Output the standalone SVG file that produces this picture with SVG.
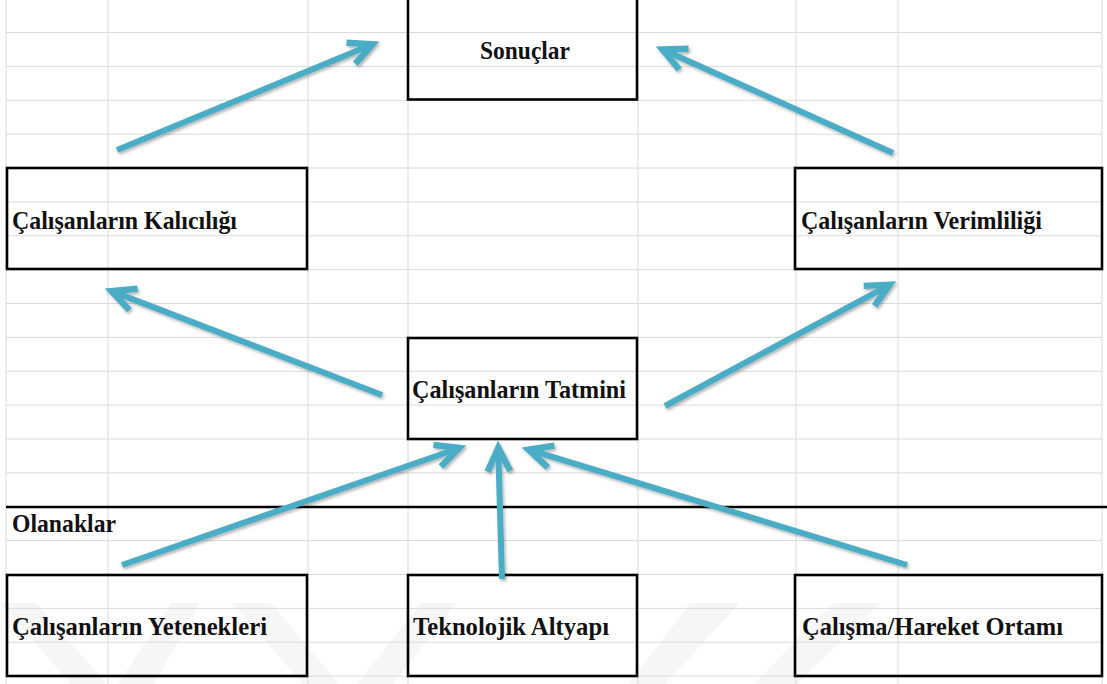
<svg xmlns="http://www.w3.org/2000/svg" width="1107" height="684" viewBox="0 0 1107 684">
<style>
.grid line{stroke:#dadada;stroke-width:1}
.box{fill:none;stroke:#000;stroke-width:2.6}
.lbl{font-family:"Liberation Serif","Times New Roman",serif;font-weight:bold;font-size:24.5px;fill:#111}
.conn line{stroke:#4BACC6;stroke-width:6;fill:none;stroke-linecap:butt}
.wm{fill:#000;opacity:0.035}
</style>
<defs>
<marker id="ah" markerUnits="userSpaceOnUse" viewBox="-40 -25 50 50" markerWidth="50" markerHeight="50" refX="0" refY="0" orient="auto">
<path d="M-23.4,-11.4 L0,0 L-23.4,11.4" fill="none" stroke="#4BACC6" stroke-width="6.5" stroke-linejoin="miter" stroke-miterlimit="10"/>
</marker>
<filter id="sh" x="-10%" y="-10%" width="120%" height="120%">
<feDropShadow dx="1.5" dy="2" stdDeviation="1.5" flood-color="#000" flood-opacity="0.3"/>
</filter>
</defs>
<rect x="0" y="0" width="1107" height="684" fill="#fff"/>
<g id="watermark">
<polygon class="wm" points="0,603 36,603 107,684 71,684"/>
<polygon class="wm" points="171,603 200,603 154,684 118,684"/>
<polygon class="wm" points="232,603 271,603 339,684 303,684"/>
<polygon class="wm" points="421,603 457,603 393,684 357,684"/>
<polygon class="wm" points="690,603 740,603 665,684 629,684"/>
<polygon class="wm" points="833,603 880,603 797,684 754,684"/>
</g>
<g class="grid" id="grid">
<line x1="6" y1="0" x2="6" y2="684"/>
<line x1="108" y1="0" x2="108" y2="684"/>
<line x1="308" y1="0" x2="308" y2="684"/>
<line x1="408" y1="0" x2="408" y2="684"/>
<line x1="638" y1="0" x2="638" y2="684"/>
<line x1="796" y1="0" x2="796" y2="684"/>
<line x1="898" y1="0" x2="898" y2="684"/>
<line x1="1102" y1="0" x2="1102" y2="684"/>
<line x1="6" y1="32.5" x2="1102" y2="32.5"/>
<line x1="6" y1="66.4" x2="1102" y2="66.4"/>
<line x1="6" y1="100.3" x2="1102" y2="100.3"/>
<line x1="6" y1="134.2" x2="1102" y2="134.2"/>
<line x1="6" y1="168" x2="1102" y2="168"/>
<line x1="6" y1="201.9" x2="1102" y2="201.9"/>
<line x1="6" y1="235.8" x2="1102" y2="235.8"/>
<line x1="6" y1="269.7" x2="1102" y2="269.7"/>
<line x1="6" y1="303.5" x2="1102" y2="303.5"/>
<line x1="6" y1="337.4" x2="1102" y2="337.4"/>
<line x1="6" y1="371.3" x2="1102" y2="371.3"/>
<line x1="6" y1="405.1" x2="1102" y2="405.1"/>
<line x1="6" y1="439" x2="1102" y2="439"/>
<line x1="6" y1="472.9" x2="1102" y2="472.9"/>
<line x1="6" y1="540.6" x2="1102" y2="540.6"/>
<line x1="6" y1="574.5" x2="1102" y2="574.5"/>
<line x1="6" y1="608.4" x2="1102" y2="608.4"/>
<line x1="6" y1="642.2" x2="1102" y2="642.2"/>
<line x1="6" y1="676.1" x2="1102" y2="676.1"/>
</g>
<g id="divider">
<line x1="6" y1="507" x2="1107" y2="507" stroke="#000" stroke-width="2.4"/>
<text class="lbl" x="12" y="532" textLength="104" lengthAdjust="spacingAndGlyphs">Olanaklar</text>
</g>
<g id="n-sonuclar">
<rect class="box" x="408" y="-2" width="229" height="101.5"/>
<text class="lbl" x="480" y="59" textLength="90" lengthAdjust="spacingAndGlyphs">Sonuçlar</text>
</g>
<g id="n-kalicilik">
<rect class="box" x="7" y="168" width="300" height="101"/>
<text class="lbl" x="12" y="229" textLength="225" lengthAdjust="spacingAndGlyphs">Çalışanların Kalıcılığı</text>
</g>
<g id="n-verimlilik">
<rect class="box" x="795" y="168" width="307" height="101"/>
<text class="lbl" x="801" y="229" textLength="241" lengthAdjust="spacingAndGlyphs">Çalışanların Verimliliği</text>
</g>
<g id="n-tatmin">
<rect class="box" x="408" y="338" width="229" height="101"/>
<text class="lbl" x="412" y="398" textLength="214" lengthAdjust="spacingAndGlyphs">Çalışanların Tatmini</text>
</g>
<g id="n-yetenek">
<rect class="box" x="7" y="575" width="300" height="101"/>
<text class="lbl" x="12" y="635" textLength="255" lengthAdjust="spacingAndGlyphs">Çalışanların Yetenekleri</text>
</g>
<g id="n-teknoloji">
<rect class="box" x="408" y="575" width="229" height="101"/>
<text class="lbl" x="413" y="635" textLength="196" lengthAdjust="spacingAndGlyphs">Teknolojik Altyapı</text>
</g>
<g id="n-ortam">
<rect class="box" x="795" y="575" width="307" height="101"/>
<text class="lbl" x="802" y="635" textLength="261" lengthAdjust="spacingAndGlyphs">Çalışma/Hareket Ortamı</text>
</g>
<g class="conn" id="connectors" filter="url(#sh)">
<line x1="117" y1="150" x2="372.5" y2="44.3" marker-end="url(#ah)"/>
<line x1="893" y1="153" x2="662.5" y2="49.5" marker-end="url(#ah)"/>
<line x1="382" y1="395" x2="111.6" y2="291.1" marker-end="url(#ah)"/>
<line x1="665" y1="406" x2="889.7" y2="284.8" marker-end="url(#ah)"/>
<line x1="122" y1="565" x2="459.3" y2="448" marker-end="url(#ah)"/>
<line x1="502" y1="579" x2="498.2" y2="448" marker-end="url(#ah)"/>
<line x1="907" y1="565" x2="528.7" y2="449.7" marker-end="url(#ah)"/>
</g>
</svg>
